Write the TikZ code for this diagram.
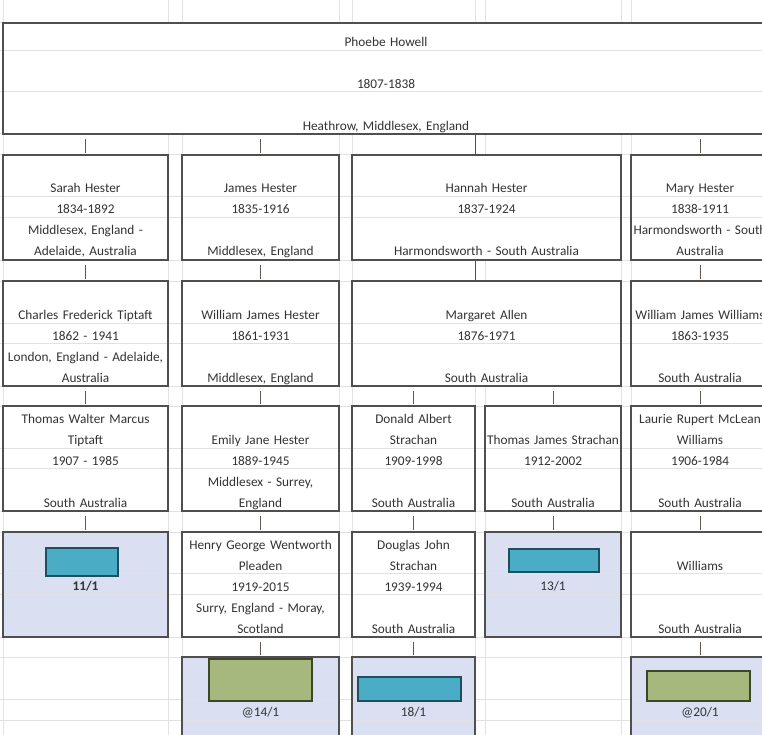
\documentclass[tikz,border=0pt]{standalone}
\usepackage{fontspec}
\setmainfont{Carlito}
\usetikzlibrary{positioning}
\definecolor{boxline}{HTML}{4F4F4F}
\definecolor{ink}{HTML}{333333}
\definecolor{gridgrey}{HTML}{E2E2E2}
\definecolor{cellshade}{HTML}{DAE0F1}
\definecolor{tealfill}{HTML}{4BACC6}
\definecolor{tealline}{HTML}{1F4F5C}
\definecolor{olivefill}{HTML}{A6B87D}
\definecolor{oliveline}{HTML}{3C4628}
\definecolor{tickline}{HTML}{62574F}
\newcommand{\cellfont}{\fontsize{13.3}{21}\selectfont}
\newcommand{\headfont}{\fontsize{13.3}{42}\selectfont}
\newcommand{\rowstrut}{\rule[-4pt]{0pt}{21pt}}
\newcommand{\headstrut}{\rule[-3.5pt]{0pt}{27pt}}
\newcommand{\cellrow}[1]{\mbox{\rowstrut#1}}
\newcommand{\headrow}[1]{\mbox{\headstrut#1}}
\newcommand{\personlines}[5]{\cellrow{#1}\\\cellrow{#2}\\\cellrow{#3}\\\cellrow{#4}\\\cellrow{#5}}
\pgfdeclarelayer{background}
\pgfsetlayers{background,main}
\tikzset{%
    person/.style={draw=boxline, line width=1.3pt, inner sep=0pt, minimum height=105, minimum width=#1, text width=#1, align=center, font=\cellfont, text=ink},
    headbox/.style={draw=boxline, line width=1.3pt, inner sep=0pt, minimum height=111, minimum width=766, text width=766, align=center, font=\headfont, text=ink},
    shadedcell/.style={draw=boxline, line width=1.3pt, inner sep=0pt, minimum height=105, minimum width=#1},
    tealbar/.style={fill=tealfill, draw=tealline, line width=1.3pt, inner sep=0pt},
    olivebar/.style={fill=olivefill, draw=oliveline, line width=1.3pt, inner sep=0pt},
    odds/.style={anchor=base, inner sep=0pt, font=\cellfont, text=ink},
    tick/.style={draw=tickline, line width=1pt, shorten <=4.5pt, shorten >=1pt},
    joint/.style={draw=boxline, line width=1.3pt},
    gridline/.style={draw=gridgrey, line width=1pt}
}

\begin{document}
\begin{tikzpicture}[x=1pt, y=-1pt]
    \useasboundingbox (0,0) rectangle (762,735);
    \clip (0,0) rectangle (762,735);
    \node[headbox] (phoebe) at (386,78.5) {\headrow{Phoebe Howell}\\\headrow{1807-1838}\\\headrow{Heathrow, Middlesex, England}};
    \node[person=165] (sarah) at (85.5,207.5) {\personlines{}{Sarah Hester}{1834-1892}{Middlesex, England -}{Adelaide, Australia}};
    \node[person=157] (james) at (260.5,207.5) {\personlines{}{James Hester}{1835-1916}{}{Middlesex, England}};
    \node[person=269] (hannah) at (486.5,207.5) {\personlines{}{Hannah Hester}{1837-1924}{}{Harmondsworth - South Australia}};
    \node[person=138] (mary) at (700,207.5) {\personlines{}{Mary Hester}{1838-1911}{Harmondsworth - South}{Australia}};
    \node[person=165] (charles) at (85.5,333.5) {\personlines{}{Charles Frederick Tiptaft}{1862 - 1941}{London, England - Adelaide,}{Australia}};
    \node[person=157] (williamj) at (260.5,333.5) {\personlines{}{William James Hester}{1861-1931}{}{Middlesex, England}};
    \node[person=269] (margaret) at (486.5,333.5) {\personlines{}{Margaret Allen}{1876-1971}{}{South Australia}};
    \node[person=138] (williamw) at (700,333.5) {\personlines{}{William James Williams}{1863-1935}{}{South Australia}};
    \node[person=165] (thomasw) at (85.5,458.5) {\personlines{Thomas Walter Marcus}{Tiptaft}{1907 - 1985}{}{South Australia}};
    \node[person=157] (emily) at (260.5,458.5) {\personlines{}{Emily Jane Hester}{1889-1945}{Middlesex - Surrey,}{England}};
    \node[person=123] (donald) at (413.5,458.5) {\personlines{Donald Albert}{Strachan}{1909-1998}{}{South Australia}};
    \node[person=136] (thomasj) at (553,458.5) {\personlines{}{Thomas James Strachan}{1912-2002}{}{South Australia}};
    \node[person=138] (laurie) at (700,458.5) {\personlines{Laurie Rupert McLean}{Williams}{1906-1984}{}{South Australia}};
    \node[shadedcell=165] (tiptaftcell) at (85.5,584.5) {};
    \node[person=157] (henry) at (260.5,584.5) {\personlines{Henry George Wentworth}{Pleaden}{1919-2015}{Surry, England - Moray,}{Scotland}};
    \node[person=123] (douglas) at (413.5,584.5) {\personlines{Douglas John}{Strachan}{1939-1994}{}{South Australia}};
    \node[shadedcell=136] (strachancell) at (553,584.5) {};
    \node[person=138] (williams) at (700,584.5) {\personlines{}{Williams}{}{}{South Australia}};
    \node[shadedcell=157] (pleadencell) at (260.5,709.5) {};
    \node[shadedcell=123] (douglascell) at (413.5,709.5) {};
    \node[shadedcell=138] (williamscell) at (700,709.5) {};

    \node[tealbar, minimum width=72, minimum height=28] (tiptaftbar) at (82,562) {};
    \node[odds, font=\cellfont\bfseries] (tiptaftodds) at (85.5,590) {11/1};
    \node[tealbar, minimum width=90, minimum height=23] (strachanbar) at (554,560.5) {};
    \node[odds] (strachanodds) at (553,590) {13/1};
    \node[olivebar, minimum width=103, minimum height=42] (pleadenbar) at (260.5,680) {};
    \node[odds] (pleadenodds) at (260.5,716) {@14/1};
    \node[tealbar, minimum width=103, minimum height=24] (douglasbar) at (409.5,689) {};
    \node[odds] (douglasodds) at (413.5,716) {18/1};
    \node[olivebar, minimum width=103, minimum height=30] (williamsbar) at (698.5,686) {};
    \node[odds] (williamsodds) at (700,716) {@20/1};

    \draw[tick] (sarah.north |- phoebe.south) -- (sarah.north);
    \draw[tick] (james.north |- phoebe.south) -- (james.north);
    \draw[joint] (donald.east |- phoebe.south) -- (donald.east |- hannah.north);
    \draw[tick] (mary.north |- phoebe.south) -- (mary.north);
    \draw[tick] (sarah.south) -- (charles.north);
    \draw[tick] (james.south) -- (williamj.north);
    \draw[joint] (donald.east |- hannah.south) -- (donald.east |- margaret.north);
    \draw[tick] (mary.south) -- (williamw.north);
    \draw[tick] (charles.south) -- (thomasw.north);
    \draw[tick] (williamj.south) -- (emily.north);
    \draw[tick] (donald.north |- margaret.south) -- (donald.north);
    \draw[tick] (thomasj.north |- margaret.south) -- (thomasj.north);
    \draw[tick] (williamw.south) -- (laurie.north);
    \draw[tick] (thomasw.south) -- (tiptaftcell.north);
    \draw[tick] (emily.south) -- (henry.north);
    \draw[tick] (donald.south) -- (douglas.north);
    \draw[tick] (thomasj.south) -- (strachancell.north);
    \draw[tick] (laurie.south) -- (williams.north);
    \draw[tick] (henry.south) -- (pleadencell.north);
    \draw[tick] (douglas.south) -- (douglascell.north);
    \draw[tick] (williams.south) -- (williamscell.north);

    \begin{pgfonlayer}{background}
        \clip (0,0) rectangle (762,735);
        \fill[white] (0,0) rectangle (762,735);
        \foreach \cname in {tiptaftcell,strachancell,pleadencell,douglascell,williamscell}
            \fill[cellshade] (\cname.south west) rectangle (\cname.north east);
        \foreach \y in {23,51,92,134,155,197,218,260,281,323,343,386,406,448,468,511,532,573,594,637,657,699,720}
            \draw[gridline] (0,\y) -- (762,\y);
        \foreach \x in {3,168,182,339,352,621,631} {
            \draw[gridline] (\x,0) -- (\x,23);
            \draw[gridline] (\x,134) -- (\x,735);
        }
        \foreach \x in {475,485} {
            \draw[gridline] (\x,0) -- (\x,23);
            \draw[gridline] (\x,134) -- (\x,155);
            \draw[gridline] (\x,260) -- (\x,281);
            \draw[gridline] (\x,386) -- (\x,735);
        }
    \end{pgfonlayer}
\end{tikzpicture}
\end{document}
